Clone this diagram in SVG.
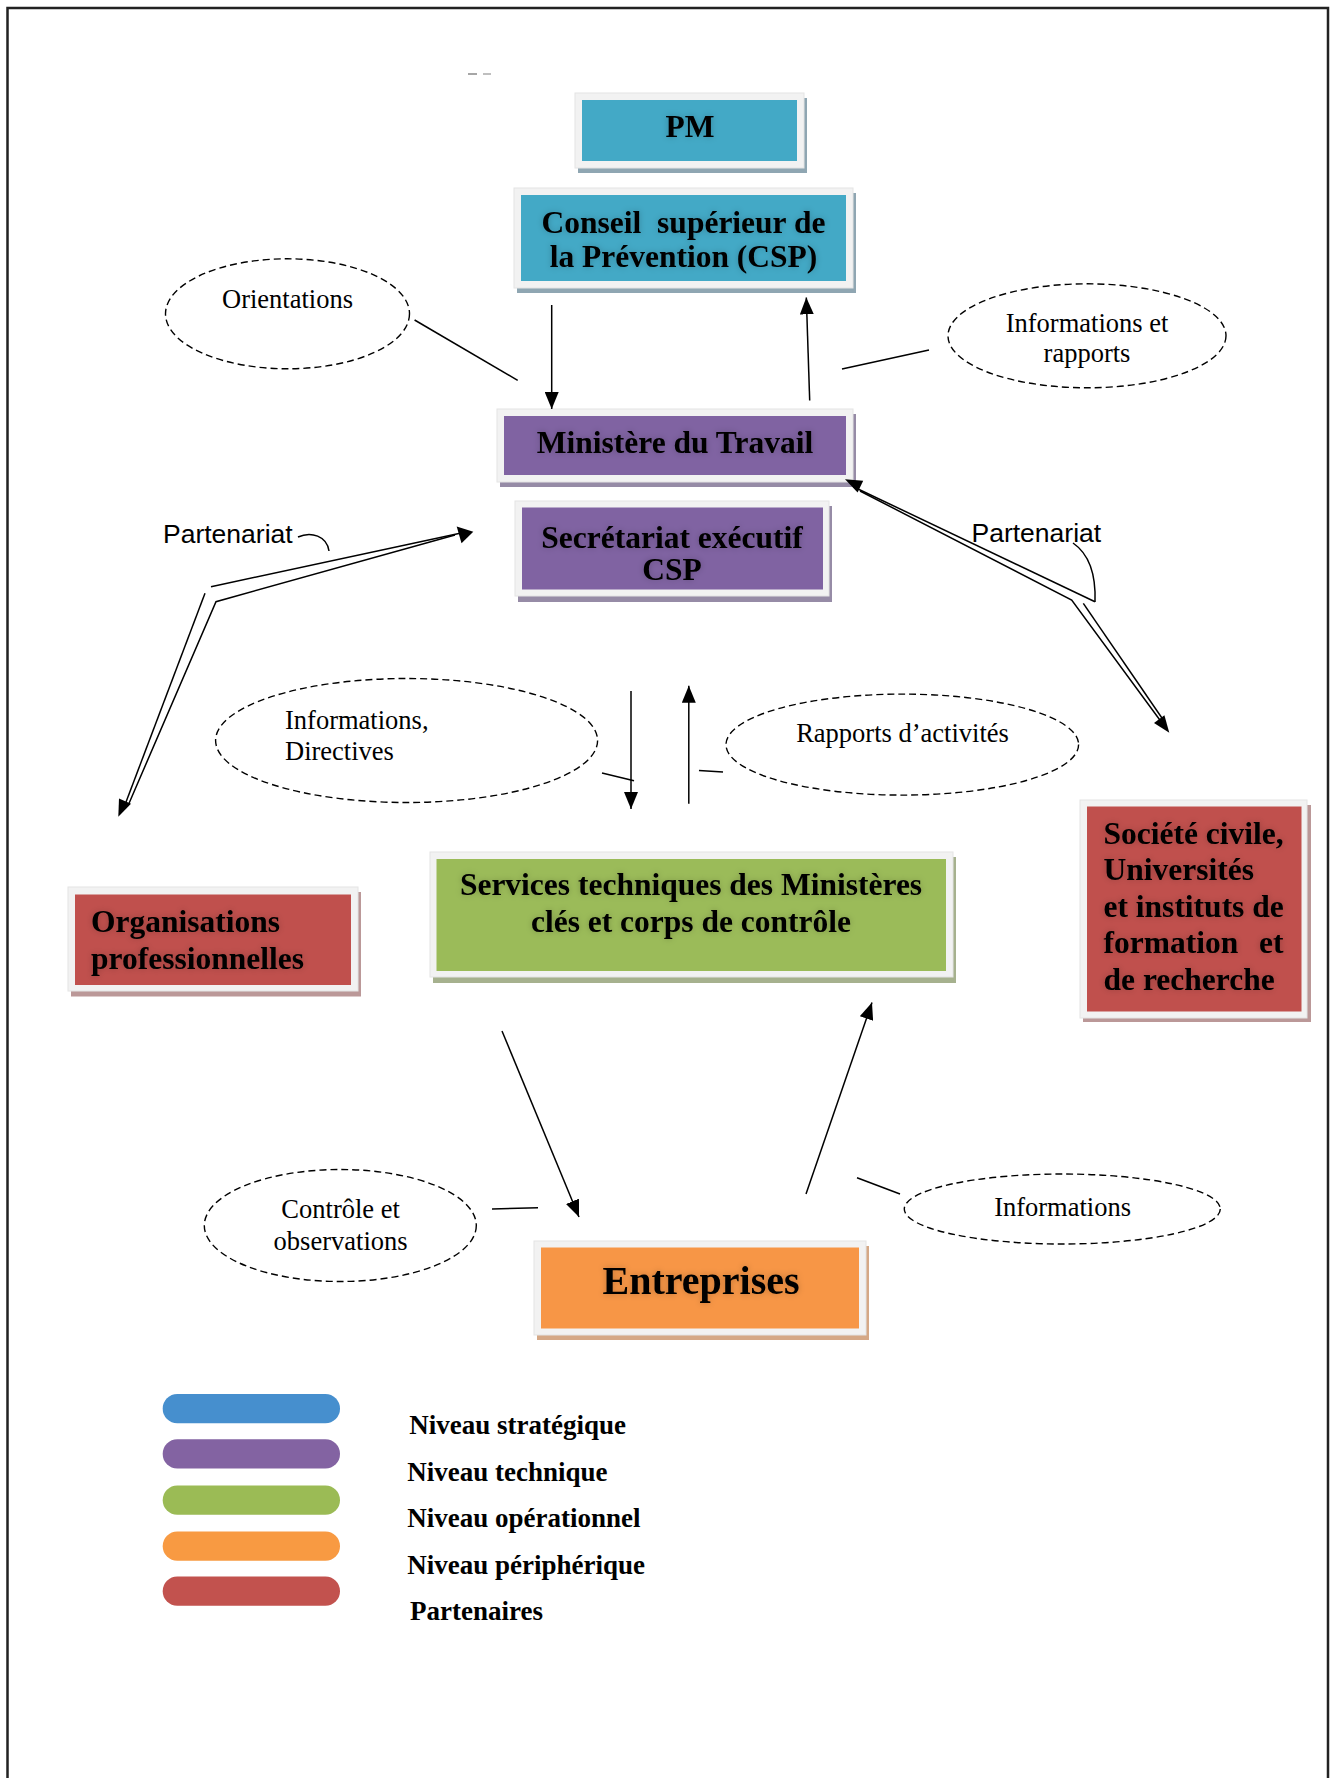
<svg xmlns="http://www.w3.org/2000/svg" width="1335" height="1778" viewBox="0 0 1335 1778">
<style>
.frame{fill:#f2f2f2;stroke:#e4e4e4;stroke-width:1}
.bt{font-family:"Liberation Serif","Times New Roman",serif;font-weight:bold;font-size:31.5px;fill:#000}
.rt{font-family:"Liberation Serif","Times New Roman",serif;font-size:26.5px;fill:#000}
.st{font-family:"Liberation Sans",Arial,sans-serif;font-size:26.5px;fill:#000}
.lt{font-family:"Liberation Serif","Times New Roman",serif;font-weight:bold;font-size:27px;fill:#000}
.ell{fill:none;stroke:#000;stroke-width:1.4;stroke-dasharray:7 4}
.ln{fill:none;stroke:#000;stroke-width:1.5}
.ar{fill:none;stroke:#000;stroke-width:1.5;marker-end:url(#ah)}
.hd{fill:#000}
</style>
<defs>
<marker id="ah" markerUnits="userSpaceOnUse" markerWidth="18" markerHeight="14" refX="17" refY="7" orient="auto">
<path d="M0,0 L17,7 L0,14 z" fill="#000"/>
</marker>
<filter id="glow" x="-10%" y="-40%" width="120%" height="180%">
<feGaussianBlur in="SourceAlpha" stdDeviation="3" result="b"/>
<feFlood flood-color="#000" flood-opacity="0.22"/>
<feComposite in2="b" operator="in" result="s"/>
<feMerge><feMergeNode in="s"/><feMergeNode in="SourceGraphic"/></feMerge>
</filter>
</defs>
<rect x="0" y="0" width="1335" height="1778" fill="#fff"/>
<path d="M7.5,1778 V8 H1328 V1778" fill="none" stroke="#222" stroke-width="2.5"/>
<g id="mark"><line x1="468" y1="74" x2="477" y2="74" stroke="#888" stroke-width="1.5"/><line x1="483" y1="74" x2="491" y2="74" stroke="#aaa" stroke-width="1.5"/></g>

<g id="pm">
<rect x="578" y="98" width="229" height="75" fill="#8fa6b2"/>
<rect class="frame" x="575" y="93" width="229" height="75"/>
<rect x="582" y="100" width="215" height="61" fill="#43a9c6"/>
<text class="bt" x="690" y="137" text-anchor="middle" filter="url(#glow)">PM</text>
</g>
<g id="csp">
<rect x="517" y="193" width="339" height="100" fill="#8fa6b2"/>
<rect class="frame" x="514" y="188" width="339" height="100"/>
<rect x="521" y="195" width="325" height="86" fill="#43a9c6"/>
<text class="bt" x="683.5" y="232.5" text-anchor="middle" filter="url(#glow)">Conseil&#160; supérieur de</text>
<text class="bt" x="683.5" y="267" text-anchor="middle" filter="url(#glow)">la Prévention (CSP)</text>
</g>
<g id="ministere">
<rect x="500" y="414" width="356" height="73" fill="#968ba6"/>
<rect class="frame" x="497" y="409" width="356" height="73"/>
<rect x="504" y="416" width="342" height="59" fill="#8063a2"/>
<text class="bt" x="675" y="452.5" text-anchor="middle" filter="url(#glow)">Ministère du Travail</text>
</g>
<g id="secretariat">
<rect x="518" y="506" width="314" height="96" fill="#968ba6"/>
<rect class="frame" x="515" y="501" width="314" height="95"/>
<rect x="522" y="507.5" width="301" height="82" fill="#8063a2"/>
<text class="bt" x="672" y="548" text-anchor="middle" filter="url(#glow)">Secrétariat exécutif</text>
<text class="bt" x="672" y="580" text-anchor="middle" filter="url(#glow)">CSP</text>
</g>
<g id="services">
<rect x="433" y="857" width="523" height="126" fill="#a6b18e"/>
<rect class="frame" x="430" y="852" width="523" height="125"/>
<rect x="436.5" y="859" width="509.5" height="112" fill="#9bbb59"/>
<text class="bt" x="691" y="895" text-anchor="middle" filter="url(#glow)">Services techniques des Ministères</text>
<text class="bt" x="691" y="932" text-anchor="middle" filter="url(#glow)">clés et corps de contrôle</text>
</g>
<g id="organisations">
<rect x="71" y="892" width="290" height="104.5" fill="#bb9898"/>
<rect class="frame" x="68" y="887" width="290" height="104"/>
<rect x="75" y="894.5" width="276" height="90.5" fill="#c0504d"/>
<text class="bt" x="91" y="932" filter="url(#glow)">Organisations</text>
<text class="bt" x="91" y="968.5" filter="url(#glow)">professionnelles</text>
</g>
<g id="societe">
<rect x="1083" y="805" width="228" height="217" fill="#bb9898"/>
<rect class="frame" x="1080" y="800" width="227" height="218"/>
<rect x="1087" y="806.5" width="214.5" height="205" fill="#c0504d"/>
<g class="bt" filter="url(#glow)">
<text x="1103.5" y="843.5">Société civile,</text>
<text x="1103.5" y="879.5">Universités</text>
<text x="1103.5" y="916.5">et instituts de</text>
<text x="1103.5" y="953">formation</text>
<text x="1283.5" y="953" text-anchor="end">et</text>
<text x="1103.5" y="989.5">de recherche</text>
</g>
</g>
<g id="entreprises">
<rect x="537" y="1246" width="332" height="94" fill="#d5a886"/>
<rect class="frame" x="534" y="1241" width="332" height="94"/>
<rect x="541" y="1247.5" width="318" height="81" fill="#f79646"/>
<text class="bt" x="701" y="1293.5" text-anchor="middle" font-size="40" style="font-size:40px" filter="url(#glow)">Entreprises</text>
</g>

<g id="orientations">
<ellipse class="ell" cx="287.5" cy="313.8" rx="122" ry="55"/>
<text class="rt" x="287.5" y="307.5" text-anchor="middle">Orientations</text>
</g>
<g id="infos-rapports">
<ellipse class="ell" cx="1087" cy="335.8" rx="139" ry="52"/>
<text class="rt" x="1087" y="332" text-anchor="middle">Informations et</text>
<text class="rt" x="1087" y="361.5" text-anchor="middle">rapports</text>
</g>
<g id="infos-directives">
<ellipse class="ell" cx="406.6" cy="740.5" rx="191" ry="62"/>
<text class="rt" x="285" y="729.3">Informations,</text>
<text class="rt" x="285" y="759.5">Directives</text>
</g>
<g id="rapports-activites">
<ellipse class="ell" cx="902.3" cy="744.6" rx="176.3" ry="50.5"/>
<text class="rt" x="902.5" y="741.5" text-anchor="middle">Rapports d’activités</text>
</g>
<g id="controle">
<ellipse class="ell" cx="340.3" cy="1225.5" rx="136" ry="56"/>
<text class="rt" x="340.6" y="1218.3" text-anchor="middle">Contrôle et</text>
<text class="rt" x="340.6" y="1250" text-anchor="middle">observations</text>
</g>
<g id="informations">
<ellipse class="ell" cx="1062.3" cy="1209" rx="158" ry="35"/>
<text class="rt" x="1062.6" y="1216" text-anchor="middle">Informations</text>
</g>
<g id="partenariat-gauche">
<text class="st" x="163" y="543.3">Partenariat</text>
<path class="ln" d="M298,537 C311,531 327,536 329,551"/>
</g>
<g id="partenariat-droite">
<text class="st" x="971.5" y="541.7">Partenariat</text>
<path class="ln" d="M1073,543 C1089,554 1096,575 1095,602"/>
</g>

<g id="connectors">
<line class="ar" x1="551.7" y1="305" x2="551.7" y2="409"/>
<line class="ar" x1="809.7" y1="400.6" x2="806.3" y2="297.4"/>
<line class="ar" x1="631" y1="691" x2="631" y2="809"/>
<line class="ar" x1="688.8" y1="803.7" x2="688.8" y2="685.7"/>
<line class="ar" x1="502" y1="1031" x2="579" y2="1217"/>
<line class="ar" x1="806" y1="1194" x2="872" y2="1002.5"/>
<line class="ln" x1="414.6" y1="320" x2="517.7" y2="380.4"/>
<line class="ln" x1="929" y1="350" x2="842" y2="369"/>
<line class="ln" x1="602" y1="773" x2="634" y2="780.7"/>
<line class="ln" x1="699" y1="770.6" x2="723" y2="772"/>
<line class="ln" x1="492" y1="1209" x2="538" y2="1207.7"/>
<line class="ln" x1="857" y1="1177.8" x2="900" y2="1194"/>
<path class="ln" d="M211,586.7 L460,533.3"/>
<path class="ln" d="M455,535 L216,601.7 L128.3,805"/>
<path class="ln" d="M205,593.3 L123,810"/>
<polygon class="hd" points="473.3,531.7 456.7,526.5 461.5,543.3"/>
<polygon class="hd" points="118.3,816.7 119,798.5 131,803.7"/>
<path class="ln" d="M853.3,486.7 L1095,601.7"/>
<path class="ln" d="M860,491 L1071.7,600 L1165,727"/>
<path class="ln" d="M1083.3,603.3 L1164,721"/>
<polygon class="hd" points="845,479.3 863.2,480.7 857.6,492.5"/>
<polygon class="hd" points="1169.3,732.7 1164.4,715.2 1154,723"/>
</g>

<g id="legend">
<rect x="162.7" y="1394" width="177.3" height="29.3" rx="14.6" fill="#468fce"/>
<rect x="162.7" y="1439.3" width="177.3" height="29.3" rx="14.6" fill="#8363a2"/>
<rect x="162.7" y="1485.5" width="177.3" height="29.3" rx="14.6" fill="#9bbb55"/>
<rect x="162.7" y="1531.5" width="177.3" height="29.3" rx="14.6" fill="#f89a42"/>
<rect x="162.7" y="1576.5" width="177.3" height="29.3" rx="14.6" fill="#c2524e"/>
<text class="lt" x="409.3" y="1434">Niveau stratégique</text>
<text class="lt" x="407.3" y="1480.7">Niveau technique</text>
<text class="lt" x="407.3" y="1527.3">Niveau opérationnel</text>
<text class="lt" x="407.3" y="1574">Niveau périphérique</text>
<text class="lt" x="410" y="1620">Partenaires</text>
</g>
</svg>
